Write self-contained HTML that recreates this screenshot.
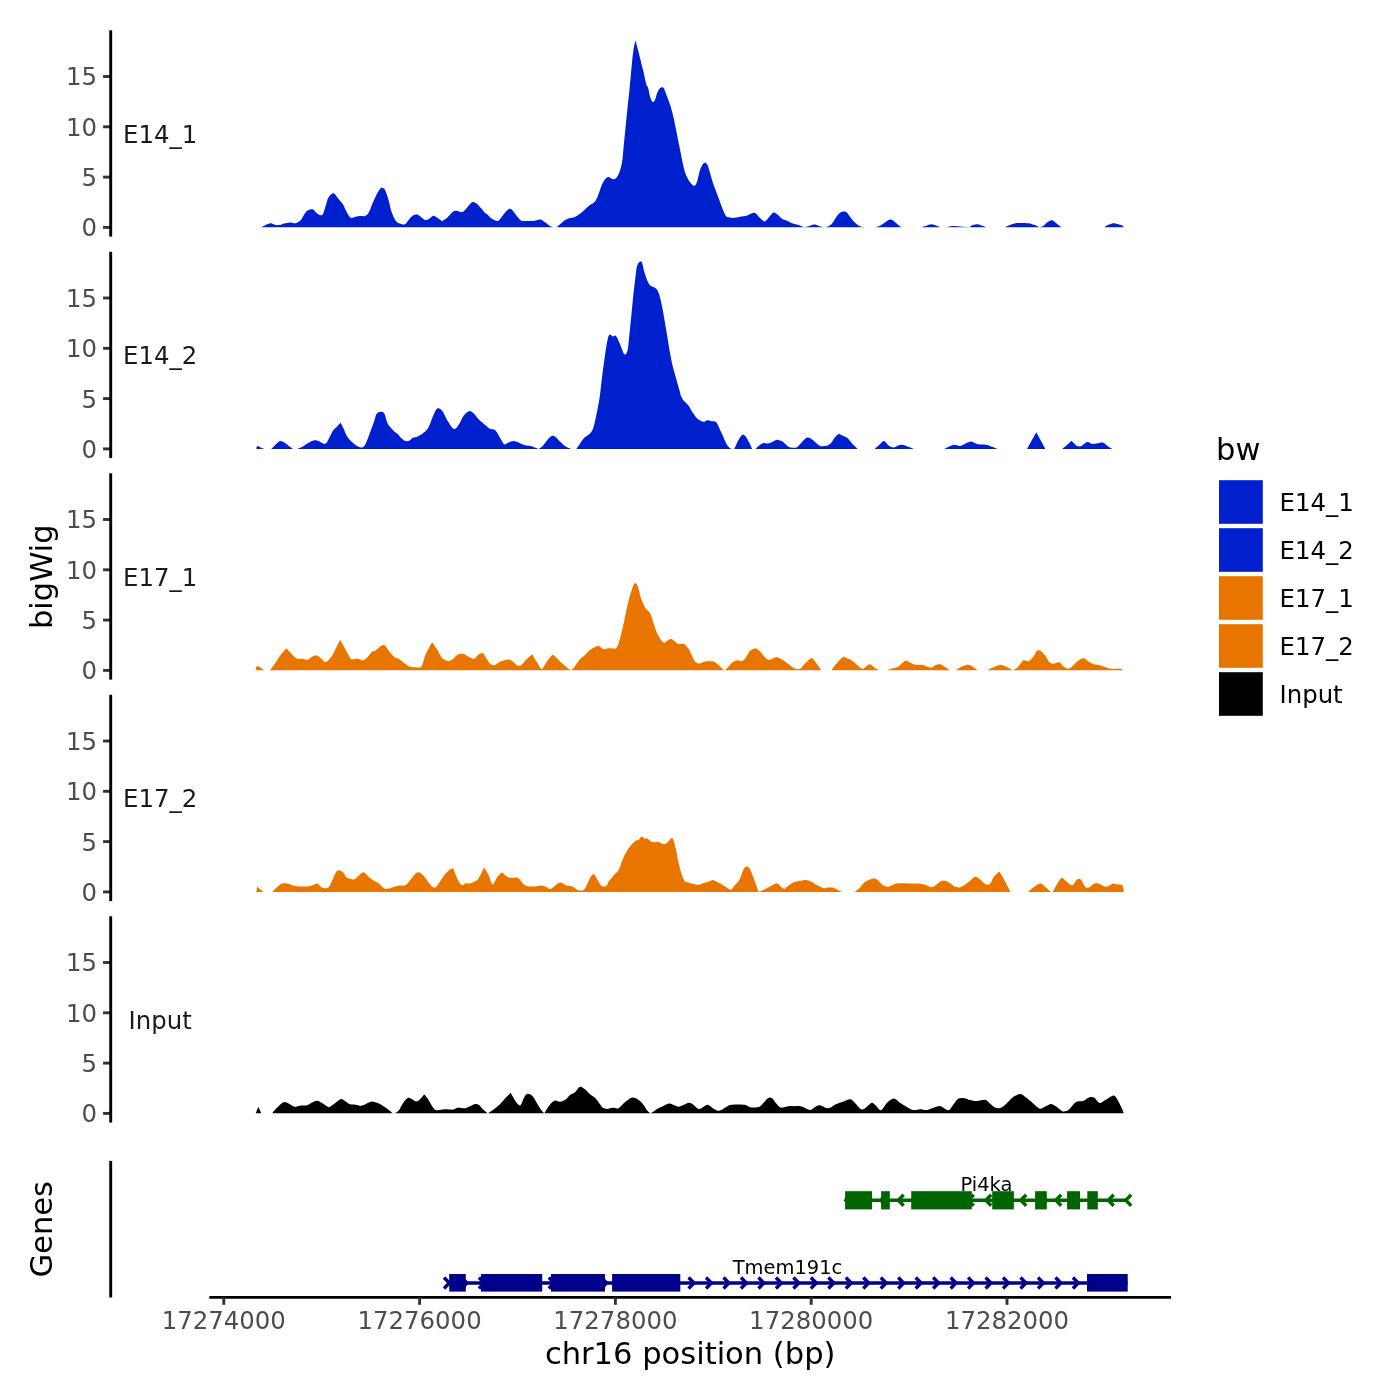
<!DOCTYPE html><html><head><meta charset="utf-8"><title>bigWig tracks</title><style>
html,body{margin:0;padding:0;background:#fff;}svg{display:block;will-change:transform;}
text{font-family:"DejaVu Sans","Liberation Sans",sans-serif;}
</style></head><body>
<svg width="1400" height="1400" viewBox="0 0 1400 1400">
<rect x="0" y="0" width="1400" height="1400" fill="#fff"/>
<clipPath id="c0"><rect x="200" y="30.30" width="1000" height="197.10"/></clipPath>
<path d="M260.7,227.4 L260.71,227.40 C261.31,227.12 262.74,226.40 264.29,225.71 C265.83,225.03 268.57,223.57 270.00,223.29 C271.43,223.00 271.90,223.71 272.86,224.00 C273.81,224.29 274.52,224.83 275.71,225.00 C276.90,225.17 278.57,225.24 280.00,225.00 C281.43,224.76 282.62,224.00 284.29,223.57 C285.95,223.14 288.10,222.50 290.00,222.43 C291.90,222.36 293.93,223.50 295.71,223.14 C297.50,222.79 299.29,221.76 300.71,220.29 C302.14,218.81 303.10,215.95 304.29,214.29 C305.48,212.62 306.43,211.12 307.86,210.29 C309.29,209.45 311.55,208.98 312.86,209.29 C314.17,209.60 314.52,211.19 315.71,212.14 C316.90,213.10 318.81,214.64 320.00,215.00 C321.19,215.36 321.90,215.83 322.86,214.29 C323.81,212.74 324.76,208.57 325.71,205.71 C326.67,202.86 327.26,199.24 328.57,197.14 C329.88,195.05 332.14,193.14 333.57,193.14 C335.00,193.14 336.07,195.88 337.14,197.14 C338.21,198.40 339.05,199.52 340.00,200.71 C340.95,201.90 341.67,202.26 342.86,204.29 C344.05,206.31 345.83,210.60 347.14,212.86 C348.45,215.12 349.29,217.19 350.71,217.86 C352.14,218.52 354.17,217.17 355.71,216.86 C357.26,216.55 358.45,216.14 360.00,216.00 C361.55,215.86 363.57,216.52 365.00,216.00 C366.43,215.48 367.26,215.05 368.57,212.86 C369.88,210.67 371.43,206.07 372.86,202.86 C374.29,199.64 375.71,196.07 377.14,193.57 C378.57,191.07 380.12,188.45 381.43,187.86 C382.74,187.26 383.81,187.98 385.00,190.00 C386.19,192.02 387.50,196.43 388.57,200.00 C389.64,203.57 390.24,207.98 391.43,211.43 C392.62,214.88 394.29,218.69 395.71,220.71 C397.14,222.74 398.45,222.98 400.00,223.57 C401.55,224.17 403.57,224.88 405.00,224.29 C406.43,223.69 407.26,221.48 408.57,220.00 C409.88,218.52 411.43,216.33 412.86,215.43 C414.29,214.52 415.83,214.33 417.14,214.57 C418.45,214.81 419.52,216.00 420.71,216.86 C421.90,217.71 422.98,219.31 424.29,219.71 C425.60,220.12 427.14,219.90 428.57,219.29 C430.00,218.67 431.67,216.40 432.86,216.00 C434.05,215.60 434.29,216.07 435.71,216.86 C437.14,217.64 440.24,220.07 441.43,220.71 C442.62,221.36 441.90,221.19 442.86,220.71 C443.81,220.24 445.48,219.33 447.14,217.86 C448.81,216.38 451.31,213.05 452.86,211.86 C454.40,210.67 455.00,210.67 456.43,210.71 C457.86,210.76 460.12,212.14 461.43,212.14 C462.74,212.14 463.10,211.79 464.29,210.71 C465.48,209.64 467.26,207.14 468.57,205.71 C469.88,204.29 470.83,202.50 472.14,202.14 C473.45,201.79 475.00,202.62 476.43,203.57 C477.86,204.52 479.40,206.43 480.71,207.86 C482.02,209.29 483.21,211.07 484.29,212.14 C485.36,213.21 485.95,213.21 487.14,214.29 C488.33,215.36 489.76,217.45 491.43,218.57 C493.10,219.69 495.71,220.88 497.14,221.00 C498.57,221.12 498.81,220.52 500.00,219.29 C501.19,218.05 502.74,215.31 504.29,213.57 C505.83,211.83 507.86,209.33 509.29,208.86 C510.71,208.38 511.55,209.45 512.86,210.71 C514.17,211.98 515.71,214.76 517.14,216.43 C518.57,218.10 520.00,219.95 521.43,220.71 C522.86,221.48 523.81,220.95 525.71,221.00 C527.62,221.05 530.71,221.21 532.86,221.00 C535.00,220.79 537.14,219.93 538.57,219.71 C540.00,219.50 540.24,219.19 541.43,219.71 C542.62,220.24 544.29,221.81 545.71,222.86 C547.14,223.90 548.69,225.24 550.00,226.00 C551.31,226.76 553.57,227.40 553.57,227.40 L556.43,227.40 C556.43,227.40 558.69,225.40 560.00,224.29 C561.31,223.17 562.74,221.71 564.29,220.71 C565.83,219.71 567.74,218.81 569.29,218.29 C570.83,217.76 572.26,218.00 573.57,217.57 C574.88,217.14 575.83,216.50 577.14,215.71 C578.45,214.93 580.00,214.00 581.43,212.86 C582.86,211.71 584.29,210.17 585.71,208.86 C587.14,207.55 588.57,206.12 590.00,205.00 C591.43,203.88 593.10,203.33 594.29,202.14 C595.48,200.95 596.19,199.88 597.14,197.86 C598.10,195.83 599.05,192.50 600.00,190.00 C600.95,187.50 601.79,184.88 602.86,182.86 C603.93,180.83 605.36,178.81 606.43,177.86 C607.50,176.90 608.10,176.90 609.29,177.14 C610.48,177.38 612.14,179.52 613.57,179.29 C615.00,179.05 616.49,178.31 617.86,175.71 C619.23,173.12 620.81,168.71 621.79,163.71 C622.76,158.71 623.07,151.93 623.71,145.71 C624.36,139.50 625.00,132.86 625.64,126.43 C626.29,120.00 626.93,113.36 627.57,107.14 C628.21,100.93 628.86,95.57 629.50,89.14 C630.14,82.71 630.79,75.00 631.43,68.57 C632.07,62.14 632.67,55.29 633.36,50.57 C634.04,45.86 635.54,40.29 635.54,40.29 C635.54,40.29 637.90,49.50 639.14,54.43 C640.39,59.36 641.82,64.93 643.00,69.86 C644.18,74.79 645.36,81.00 646.21,84.00 C647.07,87.00 647.50,85.71 648.14,87.86 C648.79,90.00 649.32,94.50 650.07,96.86 C650.82,99.21 651.79,101.57 652.64,102.00 C653.50,102.43 654.46,100.93 655.21,99.43 C655.96,97.93 656.39,94.82 657.14,93.00 C657.89,91.18 658.69,89.40 659.71,88.50 C660.74,87.60 662.24,86.64 663.31,87.60 C664.39,88.56 665.03,91.46 666.14,94.29 C667.26,97.11 668.93,101.36 670.00,104.57 C671.07,107.79 671.71,110.14 672.57,113.57 C673.43,117.00 674.29,121.07 675.14,125.14 C676.00,129.21 676.86,133.71 677.71,138.00 C678.57,142.29 679.43,146.57 680.29,150.86 C681.14,155.14 681.95,159.81 682.86,163.71 C683.76,167.62 684.52,171.21 685.71,174.29 C686.90,177.36 688.57,180.24 690.00,182.14 C691.43,184.05 693.10,185.83 694.29,185.71 C695.48,185.60 696.19,184.05 697.14,181.43 C698.10,178.81 698.93,173.05 700.00,170.00 C701.07,166.95 702.38,164.10 703.57,163.14 C704.76,162.19 706.07,162.67 707.14,164.29 C708.21,165.90 709.05,169.76 710.00,172.86 C710.95,175.95 711.67,179.29 712.86,182.86 C714.05,186.43 715.71,190.48 717.14,194.29 C718.57,198.10 720.00,202.14 721.43,205.71 C722.86,209.29 724.29,213.76 725.71,215.71 C727.14,217.67 728.57,217.07 730.00,217.43 C731.43,217.79 732.62,217.98 734.29,217.86 C735.95,217.74 737.86,217.12 740.00,216.71 C742.14,216.31 744.76,216.07 747.14,215.43 C749.52,214.79 752.38,212.69 754.29,212.86 C756.19,213.02 756.90,215.00 758.57,216.43 C760.24,217.86 762.62,221.19 764.29,221.43 C765.95,221.67 767.14,219.29 768.57,217.86 C770.00,216.43 771.67,213.64 772.86,212.86 C774.05,212.07 774.76,212.71 775.71,213.14 C776.67,213.57 777.38,214.40 778.57,215.43 C779.76,216.45 781.43,218.40 782.86,219.29 C784.29,220.17 785.48,220.00 787.14,220.71 C788.81,221.43 790.95,222.86 792.86,223.57 C794.76,224.29 796.67,224.36 798.57,225.00 C800.48,225.64 804.29,227.40 804.29,227.40 C804.29,227.40 808.33,226.19 810.00,225.71 C811.67,225.24 812.86,224.57 814.29,224.57 C815.71,224.57 817.02,225.24 818.57,225.71 C820.12,226.19 823.57,227.40 823.57,227.40 L825.71,227.40 C825.71,227.40 829.71,225.95 831.43,224.29 C833.14,222.62 834.57,219.37 836.00,217.43 C837.43,215.49 838.38,213.58 840.00,212.63 C841.62,211.68 844.10,211.10 845.71,211.71 C847.33,212.32 848.29,214.57 849.71,216.29 C851.14,218.00 852.76,220.44 854.29,222.00 C855.81,223.56 857.14,224.76 858.86,225.66 C860.57,226.56 864.57,227.40 864.57,227.40 L874.86,227.40 C874.86,227.40 878.67,226.42 880.57,225.43 C882.48,224.43 884.61,222.42 886.29,221.43 C887.96,220.44 889.30,219.49 890.63,219.49 C891.96,219.49 892.91,220.44 894.29,221.43 C895.66,222.42 897.62,224.43 898.86,225.43 C900.10,226.42 901.71,227.40 901.71,227.40 L920.57,227.40 C920.57,227.40 924.48,226.18 926.29,225.66 C928.10,225.14 929.71,224.29 931.43,224.29 C933.14,224.29 935.05,225.14 936.57,225.66 C938.10,226.18 940.57,227.40 940.57,227.40 L946.86,227.40 C946.86,227.40 949.29,226.00 953.14,226.00 C957.00,226.00 970.00,227.40 970.00,227.40 C970.00,227.40 970.00,226.18 971.14,225.66 C972.29,225.14 975.14,224.32 976.86,224.29 C978.57,224.25 979.71,224.91 981.43,225.43 C983.14,225.95 987.14,227.40 987.14,227.40 L1004.29,227.40 C1004.29,227.40 1006.95,226.14 1008.86,225.43 C1010.76,224.72 1012.48,223.52 1015.71,223.14 C1018.95,222.76 1025.24,222.86 1028.29,223.14 C1031.33,223.43 1032.10,224.15 1034.00,224.86 C1035.90,225.57 1039.71,227.40 1039.71,227.40 C1039.71,227.40 1041.81,226.90 1043.14,226.00 C1044.48,225.10 1046.23,222.95 1047.71,222.00 C1049.20,221.05 1050.53,220.00 1052.06,220.29 C1053.58,220.57 1055.30,222.53 1056.86,223.71 C1058.42,224.90 1061.43,227.40 1061.43,227.40 L1104.29,227.40 C1104.29,227.40 1106.76,225.57 1108.29,224.86 C1109.81,224.15 1111.71,223.24 1113.43,223.14 C1115.14,223.05 1116.95,223.81 1118.57,224.29 C1120.19,224.76 1122.34,225.48 1123.14,226.00 C1123.37,226.52 1123.33,227.17 1123.37,227.40 L1123.4,227.4 Z" fill="#0020CD" clip-path="url(#c0)"/>
<line x1="103.1" y1="227.40" x2="110.7" y2="227.40" stroke="#333" stroke-width="2.9"/>
<text x="97" y="236.30" font-size="24.4" fill="#4D4D4D" text-anchor="end">0</text>
<line x1="103.1" y1="177.10" x2="110.7" y2="177.10" stroke="#333" stroke-width="2.9"/>
<text x="97" y="186.00" font-size="24.4" fill="#4D4D4D" text-anchor="end">5</text>
<line x1="103.1" y1="126.80" x2="110.7" y2="126.80" stroke="#333" stroke-width="2.9"/>
<text x="97" y="135.70" font-size="24.4" fill="#4D4D4D" text-anchor="end">10</text>
<line x1="103.1" y1="76.50" x2="110.7" y2="76.50" stroke="#333" stroke-width="2.9"/>
<text x="97" y="85.40" font-size="24.4" fill="#4D4D4D" text-anchor="end">15</text>
<line x1="110.7" y1="30.30" x2="110.7" y2="236.60" stroke="#000" stroke-width="2.9"/>
<text x="160.2" y="142.85" font-size="24.4" fill="#1A1A1A" text-anchor="middle">E14_1</text>
<clipPath id="c1"><rect x="200" y="251.80" width="1000" height="197.10"/></clipPath>
<path d="M256.4,448.9 L256.43,448.90 C256.55,448.44 256.43,446.39 257.14,446.14 C257.86,445.90 259.52,446.97 260.71,447.43 C261.90,447.89 264.29,448.90 264.29,448.90 L268.57,448.90 L271.43,448.90 C271.43,448.90 274.29,445.89 275.71,444.57 C277.14,443.25 278.57,441.33 280.00,441.00 C281.43,440.67 282.86,441.79 284.29,442.57 C285.71,443.36 287.14,444.66 288.57,445.71 C290.00,446.77 292.86,448.90 292.86,448.90 L297.14,448.90 C297.14,448.90 300.95,447.44 302.86,446.43 C304.76,445.42 306.67,443.88 308.57,442.86 C310.48,441.83 312.62,440.60 314.29,440.29 C315.95,439.98 316.79,440.40 318.57,441.00 C320.36,441.60 323.33,444.14 325.00,443.86 C326.67,443.57 327.26,441.48 328.57,439.29 C329.88,437.10 331.43,432.86 332.86,430.71 C334.29,428.57 335.83,427.74 337.14,426.43 C338.45,425.12 340.71,422.86 340.71,422.86 C340.71,422.86 342.50,426.31 343.57,428.57 C344.64,430.83 345.60,434.05 347.14,436.43 C348.69,438.81 350.95,441.12 352.86,442.86 C354.76,444.60 356.90,446.14 358.57,446.86 C360.24,447.57 361.67,447.69 362.86,447.14 C364.05,446.60 364.52,445.95 365.71,443.57 C366.90,441.19 368.57,436.67 370.00,432.86 C371.43,429.05 373.10,424.00 374.29,420.71 C375.48,417.43 375.60,414.50 377.14,413.14 C378.69,411.79 381.90,411.07 383.57,412.57 C385.24,414.07 386.07,419.76 387.14,422.14 C388.21,424.52 388.81,425.31 390.00,426.86 C391.19,428.40 393.10,430.31 394.29,431.43 C395.48,432.55 395.95,432.43 397.14,433.57 C398.33,434.71 400.12,437.07 401.43,438.29 C402.74,439.50 403.69,440.45 405.00,440.86 C406.31,441.26 407.98,441.21 409.29,440.71 C410.60,440.21 411.55,438.50 412.86,437.86 C414.17,437.21 415.36,437.69 417.14,436.86 C418.93,436.02 421.67,434.48 423.57,432.86 C425.48,431.24 427.02,429.88 428.57,427.14 C430.12,424.40 431.43,419.52 432.86,416.43 C434.29,413.33 435.60,409.52 437.14,408.57 C438.69,407.62 440.71,409.29 442.14,410.71 C443.57,412.14 444.88,415.60 445.71,417.14 C446.55,418.69 445.83,418.05 447.14,420.00 C448.45,421.95 451.67,428.02 453.57,428.86 C455.48,429.69 456.90,427.19 458.57,425.00 C460.24,422.81 461.79,418.02 463.57,415.71 C465.36,413.40 467.50,411.43 469.29,411.14 C471.07,410.86 472.74,412.64 474.29,414.00 C475.83,415.36 476.90,417.57 478.57,419.29 C480.24,421.00 482.38,422.69 484.29,424.29 C486.19,425.88 488.21,427.90 490.00,428.86 C491.79,429.81 493.33,428.50 495.00,430.00 C496.67,431.50 498.45,435.48 500.00,437.86 C501.55,440.24 502.86,443.50 504.29,444.29 C505.71,445.07 507.02,443.12 508.57,442.57 C510.12,442.02 511.90,441.00 513.57,441.00 C515.24,441.00 516.67,441.86 518.57,442.57 C520.48,443.29 522.86,444.69 525.00,445.29 C527.14,445.88 529.17,445.54 531.43,446.14 C533.69,446.75 538.57,448.90 538.57,448.90 C538.57,448.90 541.19,447.44 542.86,445.71 C544.52,443.99 547.14,440.17 548.57,438.57 C550.00,436.98 550.36,436.50 551.43,436.14 C552.50,435.79 553.57,435.55 555.00,436.43 C556.43,437.31 558.21,439.76 560.00,441.43 C561.79,443.10 563.81,445.18 565.71,446.43 C567.62,447.67 571.43,448.90 571.43,448.90 L576.43,448.90 C576.43,448.90 580.12,443.27 581.43,441.43 C582.74,439.59 582.74,439.29 584.29,437.86 C585.83,436.43 589.05,435.12 590.71,432.86 C592.38,430.60 592.86,429.80 594.29,424.29 C595.71,418.77 598.02,407.40 599.29,399.79 C600.55,392.17 601.00,385.32 601.86,378.57 C602.71,371.82 603.57,365.29 604.43,359.29 C605.29,353.29 606.19,346.64 607.00,342.57 C607.81,338.50 608.35,335.89 609.31,334.86 C610.28,333.83 611.67,336.23 612.79,336.40 C613.90,336.57 614.82,334.64 616.00,335.89 C617.18,337.13 618.46,340.81 619.86,343.86 C621.25,346.90 623.07,353.07 624.36,354.14 C625.64,355.21 626.71,353.71 627.57,350.29 C628.43,346.86 628.86,339.57 629.50,333.57 C630.14,327.57 630.79,320.71 631.43,314.29 C632.07,307.86 632.71,301.00 633.36,295.00 C634.00,289.00 634.64,283.21 635.29,278.29 C635.93,273.36 636.19,268.17 637.21,265.43 C638.24,262.69 640.28,260.76 641.46,261.83 C642.64,262.90 643.39,268.90 644.29,271.86 C645.19,274.81 645.89,277.32 646.86,279.57 C647.82,281.82 648.89,284.07 650.07,285.36 C651.25,286.64 652.75,286.54 653.93,287.29 C655.11,288.04 656.18,288.36 657.14,289.86 C658.11,291.36 658.86,293.29 659.71,296.29 C660.57,299.29 661.43,303.57 662.29,307.86 C663.14,312.14 664.00,317.07 664.86,322.00 C665.71,326.93 666.57,332.29 667.43,337.43 C668.29,342.57 669.14,348.14 670.00,352.86 C670.86,357.57 671.61,361.64 672.57,365.71 C673.54,369.79 674.71,373.43 675.79,377.29 C676.86,381.14 677.94,385.31 679.00,388.86 C680.06,392.40 680.55,395.76 682.14,398.57 C683.74,401.38 686.79,403.33 688.57,405.71 C690.36,408.10 691.43,410.71 692.86,412.86 C694.29,415.00 695.71,417.19 697.14,418.57 C698.57,419.95 700.24,420.62 701.43,421.14 C702.62,421.67 703.33,421.86 704.29,421.71 C705.24,421.57 705.95,420.38 707.14,420.29 C708.33,420.19 709.88,420.76 711.43,421.14 C712.98,421.52 714.76,420.62 716.43,422.57 C718.10,424.52 719.64,429.12 721.43,432.86 C723.21,436.60 725.48,442.33 727.14,445.00 C728.81,447.67 731.43,448.90 731.43,448.90 L734.29,448.90 C734.29,448.90 737.26,442.32 738.57,440.00 C739.88,437.68 740.95,435.60 742.14,435.00 C743.33,434.40 744.52,435.12 745.71,436.43 C746.90,437.74 748.21,440.78 749.29,442.86 C750.36,444.94 752.14,448.90 752.14,448.90 L755.71,448.90 C755.71,448.90 757.38,446.96 758.57,446.00 C759.76,445.04 761.31,443.55 762.86,443.14 C764.40,442.74 766.19,443.81 767.86,443.57 C769.52,443.33 771.31,442.36 772.86,441.71 C774.40,441.07 775.48,439.71 777.14,439.71 C778.81,439.71 781.19,440.71 782.86,441.71 C784.52,442.71 785.83,444.76 787.14,445.71 C788.45,446.67 789.17,447.14 790.71,447.43 C792.26,447.71 794.88,447.95 796.43,447.43 C797.98,446.90 798.21,445.93 800.00,444.29 C801.79,442.64 805.00,438.29 807.14,437.57 C809.29,436.86 810.71,438.60 812.86,440.00 C815.00,441.40 817.86,445.05 820.00,446.00 C822.14,446.95 824.67,445.71 825.71,445.71 C826.29,445.71 825.71,446.43 826.29,446.00 C827.14,445.57 829.43,444.57 830.86,443.14 C832.29,441.71 833.62,438.91 834.86,437.43 C836.10,435.94 837.14,434.61 838.29,434.23 C839.43,433.85 840.19,434.51 841.71,435.14 C843.24,435.77 845.90,436.86 847.43,438.00 C848.95,439.14 849.71,440.72 850.86,442.00 C852.00,443.28 853.14,444.51 854.29,445.66 C855.43,446.81 857.71,448.90 857.71,448.90 L874.86,448.90 C874.86,448.90 877.94,446.16 879.43,444.86 C880.91,443.55 882.25,440.99 883.77,441.09 C885.30,441.18 886.91,444.36 888.57,445.43 C890.23,446.50 892.19,447.45 893.71,447.49 C895.24,447.52 896.29,446.10 897.71,445.66 C899.14,445.22 900.76,444.74 902.29,444.86 C903.81,444.97 904.95,445.67 906.86,446.34 C908.76,447.02 913.71,448.90 913.71,448.90 L944.57,448.90 C944.57,448.90 947.52,447.25 949.14,446.57 C950.76,445.90 952.48,444.95 954.29,444.86 C956.10,444.76 958.19,446.19 960.00,446.00 C961.81,445.81 963.33,444.48 965.14,443.71 C966.95,442.95 969.14,441.49 970.86,441.43 C972.57,441.37 974.24,442.90 975.43,443.37 C976.62,443.85 976.24,444.04 978.00,444.29 C979.76,444.53 983.90,444.51 986.00,444.86 C988.10,445.20 988.67,445.67 990.57,446.34 C992.48,447.02 997.43,448.90 997.43,448.90 L1027.14,448.90 C1027.14,448.90 1036.29,432.29 1036.29,432.29 C1036.29,432.29 1045.43,448.90 1045.43,448.90 L1062.57,448.90 C1062.57,448.90 1065.66,446.24 1067.14,444.86 C1068.63,443.48 1071.49,440.63 1071.49,440.63 C1071.49,440.63 1075.10,444.48 1076.29,445.43 C1077.47,446.38 1077.71,446.25 1078.57,446.34 C1079.43,446.44 1080.00,446.72 1081.43,446.00 C1082.86,445.28 1085.43,442.38 1087.14,442.00 C1088.86,441.62 1090.48,443.43 1091.71,443.71 C1092.95,444.00 1093.33,443.85 1094.57,443.71 C1095.81,443.58 1097.62,443.05 1099.14,442.91 C1100.67,442.78 1102.19,442.30 1103.71,442.91 C1105.24,443.52 1106.86,445.57 1108.29,446.57 C1109.71,447.57 1111.62,448.51 1112.29,448.90 L1112.3,448.9 Z" fill="#0020CD" clip-path="url(#c1)"/>
<line x1="103.1" y1="448.90" x2="110.7" y2="448.90" stroke="#333" stroke-width="2.9"/>
<text x="97" y="457.80" font-size="24.4" fill="#4D4D4D" text-anchor="end">0</text>
<line x1="103.1" y1="398.60" x2="110.7" y2="398.60" stroke="#333" stroke-width="2.9"/>
<text x="97" y="407.50" font-size="24.4" fill="#4D4D4D" text-anchor="end">5</text>
<line x1="103.1" y1="348.30" x2="110.7" y2="348.30" stroke="#333" stroke-width="2.9"/>
<text x="97" y="357.20" font-size="24.4" fill="#4D4D4D" text-anchor="end">10</text>
<line x1="103.1" y1="298.00" x2="110.7" y2="298.00" stroke="#333" stroke-width="2.9"/>
<text x="97" y="306.90" font-size="24.4" fill="#4D4D4D" text-anchor="end">15</text>
<line x1="110.7" y1="251.80" x2="110.7" y2="458.10" stroke="#000" stroke-width="2.9"/>
<text x="160.2" y="364.35" font-size="24.4" fill="#1A1A1A" text-anchor="middle">E14_2</text>
<clipPath id="c2"><rect x="200" y="473.30" width="1000" height="197.10"/></clipPath>
<path d="M255.4,670.4 L255.43,670.40 C255.71,669.67 256.26,666.42 257.14,666.00 C258.02,665.58 259.52,667.12 260.71,667.86 C261.90,668.59 264.29,670.40 264.29,670.40 L270.00,670.40 C270.00,670.40 273.33,666.02 275.00,663.57 C276.67,661.12 278.10,658.29 280.00,655.71 C281.90,653.14 286.43,648.14 286.43,648.14 C286.43,648.14 289.76,651.83 291.43,653.57 C293.10,655.31 294.52,657.69 296.43,658.57 C298.33,659.45 301.07,658.62 302.86,658.86 C304.64,659.10 305.71,660.29 307.14,660.00 C308.57,659.71 310.00,657.93 311.43,657.14 C312.86,656.36 314.29,655.24 315.71,655.29 C317.14,655.33 318.33,656.33 320.00,657.43 C321.67,658.52 323.69,662.14 325.71,661.86 C327.74,661.57 330.48,657.93 332.14,655.71 C333.81,653.50 334.36,651.24 335.71,648.57 C337.07,645.90 340.29,639.71 340.29,639.71 C340.29,639.71 342.90,644.60 344.29,647.14 C345.67,649.69 347.38,652.98 348.57,655.00 C349.76,657.02 350.12,658.64 351.43,659.29 C352.74,659.93 355.12,658.86 356.43,658.86 C357.74,658.86 358.21,659.02 359.29,659.29 C360.36,659.55 361.55,660.74 362.86,660.43 C364.17,660.12 365.60,658.88 367.14,657.43 C368.69,655.98 370.71,652.88 372.14,651.71 C373.57,650.55 374.52,651.19 375.71,650.43 C376.90,649.67 377.86,648.05 379.29,647.14 C380.71,646.24 382.74,644.40 384.29,645.00 C385.83,645.60 387.14,648.98 388.57,650.71 C390.00,652.45 391.67,654.24 392.86,655.43 C394.05,656.62 394.64,657.21 395.71,657.86 C396.79,658.50 397.86,658.40 399.29,659.29 C400.71,660.17 402.50,661.88 404.29,663.14 C406.07,664.40 408.10,666.19 410.00,666.86 C411.90,667.52 413.81,667.21 415.71,667.14 C417.62,667.07 419.76,668.57 421.43,666.43 C423.10,664.29 423.93,658.33 425.71,654.29 C427.50,650.24 432.14,642.14 432.14,642.14 C432.14,642.14 435.60,646.79 437.14,649.29 C438.69,651.79 440.00,655.31 441.43,657.14 C442.86,658.98 444.52,659.62 445.71,660.29 C446.90,660.95 447.38,661.31 448.57,661.14 C449.76,660.98 451.31,660.38 452.86,659.29 C454.40,658.19 456.07,655.45 457.86,654.57 C459.64,653.69 461.79,653.62 463.57,654.00 C465.36,654.38 466.79,656.05 468.57,656.86 C470.36,657.67 472.62,659.24 474.29,658.86 C475.95,658.48 477.14,655.52 478.57,654.57 C480.00,653.62 481.55,652.48 482.86,653.14 C484.17,653.81 485.12,656.71 486.43,658.57 C487.74,660.43 489.29,663.21 490.71,664.29 C492.14,665.36 493.45,665.43 495.00,665.00 C496.55,664.57 498.21,662.55 500.00,661.71 C501.79,660.88 504.17,660.36 505.71,660.00 C507.26,659.64 507.98,659.21 509.29,659.57 C510.60,659.93 512.14,661.12 513.57,662.14 C515.00,663.17 516.55,665.24 517.86,665.71 C519.17,666.19 520.12,665.90 521.43,665.00 C522.74,664.10 523.93,662.07 525.71,660.29 C527.50,658.50 532.14,654.29 532.14,654.29 C532.14,654.29 534.88,659.00 536.43,661.43 C537.98,663.86 540.12,668.14 541.43,668.86 C542.74,669.57 543.10,667.31 544.29,665.71 C545.48,664.12 547.14,661.14 548.57,659.29 C550.00,657.43 552.86,654.57 552.86,654.57 C552.86,654.57 555.60,657.07 557.14,658.57 C558.69,660.07 560.48,662.02 562.14,663.57 C563.81,665.12 565.71,666.72 567.14,667.86 C568.57,669.00 570.71,670.40 570.71,670.40 C570.71,670.40 572.86,668.88 574.29,667.14 C575.71,665.41 577.50,662.02 579.29,660.00 C581.07,657.98 583.21,656.67 585.00,655.00 C586.79,653.33 588.45,651.26 590.00,650.00 C591.55,648.74 592.86,648.14 594.29,647.43 C595.71,646.71 597.02,645.40 598.57,645.71 C600.12,646.02 601.90,648.86 603.57,649.29 C605.24,649.71 606.79,648.40 608.57,648.29 C610.36,648.17 613.05,648.57 614.29,648.57 C615.52,648.57 615.33,649.00 616.00,648.29 C616.67,647.57 617.43,646.67 618.29,644.29 C619.14,641.90 620.19,637.81 621.14,634.00 C622.10,630.19 622.95,626.19 624.00,621.43 C625.05,616.67 626.29,610.19 627.43,605.43 C628.57,600.67 629.81,596.29 630.86,592.86 C631.90,589.43 632.86,586.48 633.71,584.86 C634.57,583.24 635.24,582.57 636.00,583.14 C636.76,583.71 637.43,585.71 638.29,588.29 C639.14,590.86 640.00,595.33 641.14,598.57 C642.29,601.81 643.62,605.24 645.14,607.71 C646.67,610.19 648.86,610.76 650.29,613.43 C651.71,616.10 652.38,620.00 653.71,623.71 C655.05,627.43 656.57,632.57 658.29,635.71 C660.00,638.86 662.29,641.90 664.00,642.57 C665.71,643.24 667.24,640.29 668.57,639.71 C669.90,639.14 670.86,638.76 672.00,639.14 C673.14,639.52 674.29,641.18 675.43,642.00 C676.57,642.82 677.43,643.71 678.86,644.06 C680.29,644.40 682.38,643.26 684.00,644.06 C685.62,644.86 687.33,647.10 688.57,648.86 C689.81,650.61 690.38,652.48 691.43,654.57 C692.48,656.67 693.52,659.94 694.86,661.43 C696.19,662.91 697.90,663.45 699.43,663.49 C700.95,663.52 702.29,662.04 704.00,661.66 C705.71,661.28 708.00,661.20 709.71,661.20 C711.43,661.20 712.86,661.05 714.29,661.66 C715.71,662.27 717.05,663.75 718.29,664.86 C719.52,665.96 720.67,667.36 721.71,668.29 C722.76,669.21 724.57,670.40 724.57,670.40 C724.57,670.40 726.67,668.49 728.00,667.14 C729.33,665.80 731.05,663.49 732.57,662.34 C734.10,661.20 735.62,660.48 737.14,660.29 C738.67,660.10 740.38,661.49 741.71,661.20 C743.05,660.91 743.81,660.25 745.14,658.57 C746.48,656.90 748.00,652.86 749.71,651.14 C751.43,649.43 754.43,648.79 755.43,648.29 C755.71,647.79 755.43,647.62 755.71,648.14 C756.48,648.67 758.57,650.05 760.00,651.43 C761.43,652.81 762.86,655.00 764.29,656.43 C765.71,657.86 767.14,659.64 768.57,660.00 C770.00,660.36 771.43,659.05 772.86,658.57 C774.29,658.10 775.48,656.90 777.14,657.14 C778.81,657.38 780.95,658.81 782.86,660.00 C784.76,661.19 786.67,662.90 788.57,664.29 C790.48,665.67 792.38,667.52 794.29,668.29 C796.19,669.05 798.10,669.76 800.00,668.86 C801.90,667.95 803.81,664.62 805.71,662.86 C807.62,661.10 809.76,658.40 811.43,658.29 C813.10,658.17 814.05,660.12 815.71,662.14 C817.38,664.16 821.43,670.40 821.43,670.40 L831.43,670.40 C831.43,670.40 835.24,665.07 837.14,662.86 C839.05,660.65 841.19,657.90 842.86,657.14 C844.52,656.38 845.48,657.62 847.14,658.29 C848.81,658.95 851.19,660.02 852.86,661.14 C854.52,662.26 855.60,663.71 857.14,665.00 C858.69,666.29 860.83,668.45 862.14,668.86 C863.45,669.26 863.74,668.19 865.00,667.43 C866.26,666.67 868.17,664.29 869.71,664.29 C871.26,664.29 872.69,666.41 874.29,667.43 C875.88,668.45 879.29,670.40 879.29,670.40 L887.14,670.40 C887.14,670.40 890.95,668.95 892.86,668.29 C894.76,667.62 896.90,667.38 898.57,666.43 C900.24,665.48 901.55,663.52 902.86,662.57 C904.17,661.62 904.76,660.48 906.43,660.71 C908.10,660.95 910.83,663.29 912.86,664.00 C914.88,664.71 916.90,664.83 918.57,665.00 C920.24,665.17 921.19,664.64 922.86,665.00 C924.52,665.36 927.02,666.74 928.57,667.14 C930.12,667.55 930.95,667.79 932.14,667.43 C933.33,667.07 934.40,665.52 935.71,665.00 C937.02,664.48 938.57,664.05 940.00,664.29 C941.43,664.52 942.62,665.41 944.29,666.43 C945.95,667.45 950.00,670.40 950.00,670.40 L955.71,670.40 C955.71,670.40 959.64,667.76 961.43,666.86 C963.21,665.96 964.88,665.24 966.43,665.00 C967.98,664.76 968.81,664.53 970.71,665.43 C972.62,666.33 977.86,670.40 977.86,670.40 L987.14,670.40 C987.14,670.40 990.71,668.33 992.86,667.43 C995.00,666.53 997.86,665.17 1000.00,665.00 C1002.14,664.83 1003.57,665.53 1005.71,666.43 C1007.86,667.33 1012.86,670.40 1012.86,670.40 C1012.86,670.40 1015.48,669.47 1017.14,667.86 C1018.81,666.24 1021.43,661.90 1022.86,660.71 C1024.29,659.52 1024.76,660.64 1025.71,660.71 C1026.67,660.79 1027.26,661.86 1028.57,661.14 C1029.88,660.43 1032.14,658.17 1033.57,656.43 C1035.00,654.69 1035.83,651.55 1037.14,650.71 C1038.45,649.88 1040.00,650.48 1041.43,651.43 C1042.86,652.38 1044.29,654.52 1045.71,656.43 C1047.14,658.33 1048.57,661.67 1050.00,662.86 C1051.43,664.05 1052.74,663.67 1054.29,663.57 C1055.83,663.48 1057.86,661.93 1059.29,662.29 C1060.71,662.64 1061.43,664.62 1062.86,665.71 C1064.29,666.81 1066.19,668.86 1067.86,668.86 C1069.52,668.86 1071.31,666.95 1072.86,665.71 C1074.40,664.48 1075.36,662.67 1077.14,661.43 C1078.93,660.19 1081.67,658.29 1083.57,658.29 C1085.48,658.29 1086.90,660.43 1088.57,661.43 C1090.24,662.43 1091.90,663.69 1093.57,664.29 C1095.24,664.88 1096.79,664.57 1098.57,665.00 C1100.36,665.43 1102.26,666.21 1104.29,666.86 C1106.31,667.50 1107.86,668.52 1110.71,668.86 C1113.57,669.19 1119.45,668.60 1121.43,668.86 C1122.57,669.11 1122.38,670.14 1122.57,670.40 L1122.6,670.4 Z" fill="#E87500" clip-path="url(#c2)"/>
<line x1="103.1" y1="670.40" x2="110.7" y2="670.40" stroke="#333" stroke-width="2.9"/>
<text x="97" y="679.30" font-size="24.4" fill="#4D4D4D" text-anchor="end">0</text>
<line x1="103.1" y1="620.10" x2="110.7" y2="620.10" stroke="#333" stroke-width="2.9"/>
<text x="97" y="629.00" font-size="24.4" fill="#4D4D4D" text-anchor="end">5</text>
<line x1="103.1" y1="569.80" x2="110.7" y2="569.80" stroke="#333" stroke-width="2.9"/>
<text x="97" y="578.70" font-size="24.4" fill="#4D4D4D" text-anchor="end">10</text>
<line x1="103.1" y1="519.50" x2="110.7" y2="519.50" stroke="#333" stroke-width="2.9"/>
<text x="97" y="528.40" font-size="24.4" fill="#4D4D4D" text-anchor="end">15</text>
<line x1="110.7" y1="473.30" x2="110.7" y2="679.60" stroke="#000" stroke-width="2.9"/>
<text x="160.2" y="585.85" font-size="24.4" fill="#1A1A1A" text-anchor="middle">E17_1</text>
<clipPath id="c3"><rect x="200" y="694.80" width="1000" height="197.10"/></clipPath>
<path d="M256.4,891.9 L256.43,891.90 C256.55,890.99 257.14,886.43 257.14,886.43 C257.14,886.43 258.93,888.37 260.00,889.29 C261.07,890.20 263.57,891.90 263.57,891.90 L272.14,891.90 C272.14,891.90 275.48,888.53 277.14,887.14 C278.81,885.75 280.48,884.17 282.14,883.57 C283.81,882.98 285.36,883.26 287.14,883.57 C288.93,883.88 290.95,884.95 292.86,885.43 C294.76,885.90 296.19,886.26 298.57,886.43 C300.95,886.60 304.76,886.62 307.14,886.43 C309.52,886.24 311.19,885.76 312.86,885.29 C314.52,884.81 315.71,883.26 317.14,883.57 C318.57,883.88 319.64,886.43 321.43,887.14 C323.21,887.86 326.07,888.93 327.86,887.86 C329.64,886.79 330.60,883.57 332.14,880.71 C333.69,877.86 335.36,872.14 337.14,870.71 C338.93,869.29 341.19,870.95 342.86,872.14 C344.52,873.33 345.24,876.67 347.14,877.86 C349.05,879.05 352.38,879.64 354.29,879.29 C356.19,878.93 357.02,876.90 358.57,875.71 C360.12,874.52 362.14,872.21 363.57,872.14 C365.00,872.07 365.83,874.10 367.14,875.29 C368.45,876.48 369.52,877.95 371.43,879.29 C373.33,880.62 376.43,881.74 378.57,883.29 C380.71,884.83 382.62,887.69 384.29,888.57 C385.95,889.45 387.14,888.81 388.57,888.57 C390.00,888.33 391.19,887.62 392.86,887.14 C394.52,886.67 396.43,886.07 398.57,885.71 C400.71,885.36 403.57,886.19 405.71,885.00 C407.86,883.81 409.52,880.67 411.43,878.57 C413.33,876.48 415.24,873.02 417.14,872.43 C419.05,871.83 420.95,873.33 422.86,875.00 C424.76,876.67 426.79,880.33 428.57,882.43 C430.36,884.52 432.14,887.02 433.57,887.57 C435.00,888.12 435.83,887.10 437.14,885.71 C438.45,884.33 440.00,881.31 441.43,879.29 C442.86,877.26 443.86,875.36 445.71,873.57 C447.57,871.79 450.90,868.33 452.57,868.57 C454.24,868.81 454.60,872.69 455.71,875.00 C456.83,877.31 458.10,880.71 459.29,882.43 C460.48,884.14 461.79,885.14 462.86,885.29 C463.93,885.43 464.52,883.57 465.71,883.29 C466.90,883.00 468.57,883.81 470.00,883.57 C471.43,883.33 472.86,882.69 474.29,881.86 C475.71,881.02 476.95,880.95 478.57,878.57 C480.19,876.19 484.00,867.57 484.00,867.57 C484.00,867.57 487.14,872.21 488.57,875.00 C490.00,877.79 491.14,883.93 492.57,884.29 C494.00,884.64 495.55,879.17 497.14,877.14 C498.74,875.12 502.14,872.14 502.14,872.14 C502.14,872.14 505.60,875.76 507.14,876.71 C508.69,877.67 509.64,877.67 511.43,877.86 C513.21,878.05 515.95,876.90 517.86,877.86 C519.76,878.81 521.31,882.19 522.86,883.57 C524.40,884.95 525.48,885.67 527.14,886.14 C528.81,886.62 531.19,886.43 532.86,886.43 C534.52,886.43 535.71,886.31 537.14,886.14 C538.57,885.98 540.00,885.33 541.43,885.43 C542.86,885.52 544.29,886.12 545.71,886.71 C547.14,887.31 548.57,889.05 550.00,889.00 C551.43,888.95 552.62,887.50 554.29,886.43 C555.95,885.36 558.10,882.76 560.00,882.57 C561.90,882.38 563.57,884.60 565.71,885.29 C567.86,885.98 570.83,885.93 572.86,886.71 C574.88,887.50 576.07,889.45 577.86,890.00 C579.64,890.55 582.02,890.95 583.57,890.00 C585.12,889.05 585.95,886.50 587.14,884.29 C588.33,882.07 589.57,878.38 590.71,876.71 C591.86,875.05 592.93,873.86 594.00,874.29 C595.07,874.71 596.02,877.50 597.14,879.29 C598.26,881.07 599.64,883.76 600.71,885.00 C601.79,886.24 602.50,886.71 603.57,886.71 C604.64,886.71 606.31,885.88 607.14,885.00 C607.98,884.12 607.50,882.98 608.57,881.43 C609.64,879.88 611.90,877.62 613.57,875.71 C615.24,873.81 617.26,872.14 618.57,870.00 C619.88,867.86 620.48,865.24 621.43,862.86 C622.38,860.48 622.86,858.45 624.29,855.71 C625.71,852.98 628.10,848.93 630.00,846.43 C631.90,843.93 634.29,841.79 635.71,840.71 C637.14,839.64 637.57,840.71 638.57,840.00 C639.57,839.29 640.64,836.62 641.71,836.43 C642.79,836.24 644.10,838.55 645.00,838.86 C645.90,839.17 646.07,837.81 647.14,838.29 C648.21,838.76 650.00,841.07 651.43,841.71 C652.86,842.36 654.40,842.07 655.71,842.14 C657.02,842.21 657.86,841.79 659.29,842.14 C660.71,842.50 662.74,844.45 664.29,844.29 C665.83,844.12 667.19,842.14 668.57,841.14 C669.95,840.14 671.38,837.05 672.57,838.29 C673.76,839.52 674.71,844.48 675.71,848.57 C676.71,852.67 677.50,858.33 678.57,862.86 C679.64,867.38 681.07,872.62 682.14,875.71 C683.21,878.81 683.93,880.31 685.00,881.43 C686.07,882.55 687.26,882.02 688.57,882.43 C689.88,882.83 691.19,883.43 692.86,883.86 C694.52,884.29 696.67,885.17 698.57,885.00 C700.48,884.83 702.62,883.40 704.29,882.86 C705.95,882.31 707.14,882.19 708.57,881.71 C710.00,881.24 711.19,879.81 712.86,880.00 C714.52,880.19 716.67,881.86 718.57,882.86 C720.48,883.86 722.26,884.86 724.29,886.00 C726.31,887.14 729.05,889.76 730.71,889.71 C732.38,889.67 732.86,887.33 734.29,885.71 C735.71,884.10 737.74,882.74 739.29,880.00 C740.83,877.26 742.31,871.55 743.57,869.29 C744.83,867.02 745.79,866.43 746.86,866.43 C747.93,866.43 748.76,867.02 750.00,869.29 C751.24,871.55 752.86,876.23 754.29,880.00 C755.71,883.77 758.57,891.90 758.57,891.90 C758.57,891.90 760.95,891.20 762.86,890.29 C764.76,889.37 767.62,887.55 770.00,886.43 C772.38,885.31 775.24,883.45 777.14,883.57 C779.05,883.69 780.12,886.24 781.43,887.14 C782.74,888.05 784.38,888.76 785.00,889.00 C785.14,889.24 785.00,889.03 785.14,888.57 C785.60,888.11 786.43,887.22 787.71,886.26 C789.00,885.29 790.93,883.64 792.86,882.79 C794.79,881.93 797.14,881.59 799.29,881.11 C801.43,880.64 803.79,879.89 805.71,879.96 C807.64,880.02 808.93,880.60 810.86,881.50 C812.79,882.40 815.14,884.24 817.29,885.36 C819.43,886.47 822.00,887.82 823.71,888.19 C825.43,888.55 826.07,887.65 827.57,887.54 C829.07,887.44 831.21,887.26 832.71,887.54 C834.21,887.82 835.07,888.49 836.57,889.21 C838.07,889.94 841.71,891.90 841.71,891.90 L854.57,891.90 C854.57,891.90 858.21,889.38 859.71,887.93 C861.21,886.47 861.86,884.56 863.57,883.17 C865.29,881.78 868.07,880.34 870.00,879.57 C871.93,878.80 873.64,878.22 875.14,878.54 C876.64,878.86 877.71,880.43 879.00,881.50 C880.29,882.57 881.36,884.05 882.86,884.97 C884.36,885.89 886.50,886.96 888.00,887.03 C889.50,887.09 890.36,885.96 891.86,885.36 C893.36,884.76 894.21,883.75 897.00,883.43 C899.79,883.11 904.71,883.39 908.57,883.43 C912.43,883.47 917.36,883.43 920.14,883.69 C922.93,883.94 923.36,884.37 925.29,884.97 C927.21,885.57 930.00,887.22 931.71,887.29 C933.43,887.35 934.29,886.21 935.57,885.36 C936.86,884.50 938.04,882.96 939.43,882.14 C940.82,881.33 942.43,880.47 943.93,880.47 C945.43,880.47 947.04,881.44 948.43,882.14 C949.82,882.85 951.38,884.07 952.29,884.71 C953.19,885.36 952.74,885.53 953.86,886.00 C954.98,886.47 957.29,887.65 959.00,887.54 C960.71,887.44 962.43,886.36 964.14,885.36 C965.86,884.35 967.46,882.94 969.29,881.50 C971.11,880.06 973.36,877.17 975.07,876.74 C976.79,876.31 977.96,877.77 979.57,878.93 C981.18,880.09 983.00,882.83 984.71,883.69 C986.43,884.54 988.36,885.19 989.86,884.07 C991.36,882.96 992.11,879.08 993.71,877.00 C995.32,874.92 999.50,871.60 999.50,871.60 C999.50,871.60 1002.18,876.19 1004.00,879.57 C1005.82,882.95 1010.43,891.90 1010.43,891.90 L1028.43,891.90 C1028.43,891.90 1031.64,888.70 1033.57,887.29 C1035.50,885.87 1038.07,883.54 1040.00,883.43 C1041.93,883.32 1043.32,885.23 1045.14,886.64 C1046.96,888.05 1050.93,891.90 1050.93,891.90 L1052.86,891.90 C1052.86,891.90 1055.26,887.03 1056.71,884.71 C1058.17,882.40 1060.10,878.67 1061.60,878.03 C1063.10,877.39 1063.96,879.64 1065.71,880.86 C1067.47,882.08 1070.21,885.61 1072.14,885.36 C1074.07,885.10 1075.79,880.24 1077.29,879.31 C1078.79,878.39 1079.86,878.61 1081.14,879.83 C1082.43,881.05 1083.71,885.36 1085.00,886.64 C1086.29,887.93 1087.36,888.04 1088.86,887.54 C1090.36,887.05 1092.29,884.33 1094.00,883.69 C1095.71,883.04 1097.43,883.24 1099.14,883.69 C1100.86,884.14 1102.79,885.96 1104.29,886.39 C1105.79,886.81 1106.75,886.71 1108.14,886.26 C1109.54,885.81 1111.14,883.99 1112.64,883.69 C1114.14,883.39 1115.54,884.18 1117.14,884.46 C1118.75,884.74 1121.17,884.12 1122.29,885.36 C1123.40,886.60 1123.57,890.81 1123.83,891.90 L1123.8,891.9 Z" fill="#E87500" clip-path="url(#c3)"/>
<line x1="103.1" y1="891.90" x2="110.7" y2="891.90" stroke="#333" stroke-width="2.9"/>
<text x="97" y="900.80" font-size="24.4" fill="#4D4D4D" text-anchor="end">0</text>
<line x1="103.1" y1="841.60" x2="110.7" y2="841.60" stroke="#333" stroke-width="2.9"/>
<text x="97" y="850.50" font-size="24.4" fill="#4D4D4D" text-anchor="end">5</text>
<line x1="103.1" y1="791.30" x2="110.7" y2="791.30" stroke="#333" stroke-width="2.9"/>
<text x="97" y="800.20" font-size="24.4" fill="#4D4D4D" text-anchor="end">10</text>
<line x1="103.1" y1="741.00" x2="110.7" y2="741.00" stroke="#333" stroke-width="2.9"/>
<text x="97" y="749.90" font-size="24.4" fill="#4D4D4D" text-anchor="end">15</text>
<line x1="110.7" y1="694.80" x2="110.7" y2="901.10" stroke="#000" stroke-width="2.9"/>
<text x="160.2" y="807.35" font-size="24.4" fill="#1A1A1A" text-anchor="middle">E17_2</text>
<clipPath id="c4"><rect x="200" y="916.30" width="1000" height="197.10"/></clipPath>
<path d="M255.7,1113.4 L255.71,1113.40 C256.14,1112.29 258.29,1106.71 258.29,1106.71 C258.29,1106.71 261.43,1113.40 261.43,1113.40 L272.14,1113.40 C272.14,1113.40 275.24,1109.45 277.14,1107.57 C279.05,1105.70 281.67,1102.81 283.57,1102.14 C285.48,1101.48 286.79,1102.81 288.57,1103.57 C290.36,1104.33 292.38,1106.36 294.29,1106.71 C296.19,1107.07 297.86,1105.95 300.00,1105.71 C302.14,1105.48 305.24,1105.76 307.14,1105.29 C309.05,1104.81 309.76,1103.62 311.43,1102.86 C313.10,1102.10 315.24,1100.60 317.14,1100.71 C319.05,1100.83 320.95,1102.50 322.86,1103.57 C324.76,1104.64 326.90,1106.95 328.57,1107.14 C330.24,1107.33 331.43,1105.67 332.86,1104.71 C334.29,1103.76 335.71,1102.38 337.14,1101.43 C338.57,1100.48 340.00,1099.00 341.43,1099.00 C342.86,1099.00 344.29,1100.55 345.71,1101.43 C347.14,1102.31 348.33,1103.74 350.00,1104.29 C351.67,1104.83 353.81,1104.48 355.71,1104.71 C357.62,1104.95 359.52,1105.95 361.43,1105.71 C363.33,1105.48 365.36,1104.00 367.14,1103.29 C368.93,1102.57 370.48,1101.50 372.14,1101.43 C373.81,1101.36 375.36,1102.14 377.14,1102.86 C378.93,1103.57 381.07,1104.64 382.86,1105.71 C384.64,1106.79 386.19,1108.00 387.86,1109.29 C389.52,1110.57 392.86,1113.40 392.86,1113.40 L394.29,1113.40 C394.29,1113.40 397.14,1112.35 398.57,1110.71 C400.00,1109.08 401.31,1105.71 402.86,1103.57 C404.40,1101.43 406.31,1098.57 407.86,1097.86 C409.40,1097.14 410.83,1098.69 412.14,1099.29 C413.45,1099.88 414.52,1101.31 415.71,1101.43 C416.90,1101.55 417.86,1101.19 419.29,1100.00 C420.71,1098.81 424.29,1094.29 424.29,1094.29 C424.29,1094.29 427.38,1098.21 428.57,1100.00 C429.76,1101.79 430.24,1103.33 431.43,1105.00 C432.62,1106.67 433.57,1109.29 435.71,1110.00 C437.86,1110.71 442.62,1109.40 444.29,1109.29 C445.71,1109.17 444.29,1109.24 445.71,1109.29 C447.26,1109.33 451.55,1109.81 453.57,1109.57 C455.60,1109.33 455.83,1108.10 457.86,1107.86 C459.88,1107.62 462.98,1108.74 465.71,1108.14 C468.45,1107.55 472.14,1104.86 474.29,1104.29 C476.43,1103.71 477.14,1103.88 478.57,1104.71 C480.00,1105.55 481.31,1107.84 482.86,1109.29 C484.40,1110.73 487.86,1113.40 487.86,1113.40 C487.86,1113.40 491.55,1111.09 493.57,1109.57 C495.60,1108.05 497.98,1106.24 500.00,1104.29 C502.02,1102.33 503.93,1099.76 505.71,1097.86 C507.50,1095.95 510.71,1092.86 510.71,1092.86 C510.71,1092.86 513.10,1097.38 514.29,1099.29 C515.48,1101.19 516.79,1103.33 517.86,1104.29 C518.93,1105.24 519.64,1106.19 520.71,1105.00 C521.79,1103.81 523.10,1099.00 524.29,1097.14 C525.48,1095.29 526.43,1093.98 527.86,1093.86 C529.29,1093.74 531.31,1094.81 532.86,1096.43 C534.40,1098.05 535.83,1101.43 537.14,1103.57 C538.45,1105.71 539.52,1107.65 540.71,1109.29 C541.90,1110.92 544.29,1113.40 544.29,1113.40 C544.29,1113.40 546.90,1108.54 548.57,1106.43 C550.24,1104.31 552.38,1101.48 554.29,1100.71 C556.19,1099.95 558.10,1102.05 560.00,1101.86 C561.90,1101.67 564.05,1100.71 565.71,1099.57 C567.38,1098.43 568.45,1096.24 570.00,1095.00 C571.55,1093.76 573.33,1093.52 575.00,1092.14 C576.67,1090.76 578.33,1087.19 580.00,1086.71 C581.67,1086.24 583.33,1088.02 585.00,1089.29 C586.67,1090.55 588.21,1092.74 590.00,1094.29 C591.79,1095.83 594.05,1096.90 595.71,1098.57 C597.38,1100.24 598.81,1102.74 600.00,1104.29 C601.19,1105.83 601.67,1107.07 602.86,1107.86 C604.05,1108.64 605.48,1109.00 607.14,1109.00 C608.81,1109.00 610.95,1108.00 612.86,1107.86 C614.76,1107.71 616.67,1108.98 618.57,1108.14 C620.48,1107.31 622.02,1104.62 624.29,1102.86 C626.55,1101.10 629.64,1097.98 632.14,1097.57 C634.64,1097.17 637.38,1099.19 639.29,1100.43 C641.19,1101.67 642.26,1103.33 643.57,1105.00 C644.88,1106.67 645.95,1109.03 647.14,1110.43 C648.33,1111.83 650.71,1113.40 650.71,1113.40 C650.71,1113.40 655.12,1110.21 657.14,1109.00 C659.17,1107.79 660.83,1107.05 662.86,1106.14 C664.88,1105.24 667.50,1103.76 669.29,1103.57 C671.07,1103.38 672.02,1104.48 673.57,1105.00 C675.12,1105.52 676.90,1106.71 678.57,1106.71 C680.24,1106.71 681.79,1105.64 683.57,1105.00 C685.36,1104.36 687.62,1102.86 689.29,1102.86 C690.95,1102.86 692.02,1103.98 693.57,1105.00 C695.12,1106.02 697.02,1108.64 698.57,1109.00 C700.12,1109.36 701.31,1107.86 702.86,1107.14 C704.40,1106.43 706.19,1104.55 707.86,1104.71 C709.52,1104.88 711.19,1107.14 712.86,1108.14 C714.52,1109.14 716.43,1110.40 717.86,1110.71 C719.29,1111.02 719.88,1110.71 721.43,1110.00 C722.98,1109.29 725.48,1107.31 727.14,1106.43 C728.81,1105.55 728.57,1105.00 731.43,1104.71 C734.29,1104.43 741.19,1104.31 744.29,1104.71 C747.38,1105.12 748.33,1106.67 750.00,1107.14 C751.67,1107.62 752.62,1107.69 754.29,1107.57 C755.95,1107.45 758.45,1107.21 760.00,1106.43 C761.55,1105.64 762.26,1104.24 763.57,1102.86 C764.88,1101.48 766.43,1098.93 767.86,1098.14 C769.29,1097.36 770.83,1097.36 772.14,1098.14 C773.45,1098.93 774.29,1101.29 775.71,1102.86 C777.14,1104.43 778.57,1107.02 780.71,1107.57 C782.86,1108.12 786.31,1106.38 788.57,1106.14 C790.83,1105.90 792.14,1106.10 794.29,1106.14 C796.43,1106.19 798.81,1105.79 801.43,1106.43 C804.05,1107.07 807.86,1109.81 810.00,1110.00 C812.14,1110.19 812.74,1108.36 814.29,1107.57 C815.83,1106.79 817.62,1105.36 819.29,1105.29 C820.95,1105.21 822.98,1106.67 824.29,1107.14 C825.60,1107.62 826.19,1108.02 827.14,1108.14 C828.10,1108.26 828.57,1108.50 830.00,1107.86 C831.43,1107.21 833.57,1105.29 835.71,1104.29 C837.86,1103.29 840.48,1102.69 842.86,1101.86 C845.24,1101.02 848.10,1099.24 850.00,1099.29 C851.90,1099.33 852.38,1100.48 854.29,1102.14 C856.19,1103.81 859.40,1108.45 861.43,1109.29 C863.45,1110.12 864.64,1108.21 866.43,1107.14 C868.21,1106.07 870.36,1102.86 872.14,1102.86 C873.93,1102.86 875.60,1105.95 877.14,1107.14 C878.69,1108.33 879.76,1110.71 881.43,1110.00 C883.10,1109.29 885.12,1104.76 887.14,1102.86 C889.17,1100.95 891.55,1098.69 893.57,1098.57 C895.60,1098.45 897.38,1100.95 899.29,1102.14 C901.19,1103.33 902.74,1104.40 905.00,1105.71 C907.26,1107.02 910.36,1109.40 912.86,1110.00 C915.36,1110.60 917.62,1109.29 920.00,1109.29 C922.38,1109.29 924.76,1110.29 927.14,1110.00 C929.52,1109.71 932.02,1108.21 934.29,1107.57 C936.55,1106.93 938.57,1105.74 940.71,1106.14 C942.86,1106.55 945.60,1109.48 947.14,1110.00 C948.69,1110.52 948.93,1110.24 950.00,1109.29 C951.07,1108.33 952.14,1106.07 953.57,1104.29 C955.00,1102.50 956.79,1099.60 958.57,1098.57 C960.36,1097.55 962.38,1097.90 964.29,1098.14 C966.19,1098.38 968.10,1099.52 970.00,1100.00 C971.90,1100.48 974.05,1100.93 975.71,1101.00 C977.38,1101.07 978.33,1100.60 980.00,1100.43 C981.67,1100.26 984.05,1099.48 985.71,1100.00 C987.38,1100.52 988.45,1102.31 990.00,1103.57 C991.55,1104.83 993.30,1106.83 995.00,1107.57 C996.70,1108.31 998.33,1108.61 1000.18,1108.00 C1002.02,1107.39 1004.20,1105.50 1006.07,1103.93 C1007.95,1102.36 1009.73,1100.00 1011.43,1098.57 C1013.12,1097.14 1014.73,1096.11 1016.25,1095.36 C1017.77,1094.61 1019.02,1093.80 1020.54,1094.07 C1022.05,1094.34 1023.66,1095.77 1025.36,1096.96 C1027.05,1098.16 1028.93,1099.73 1030.71,1101.25 C1032.50,1102.77 1034.46,1104.82 1036.07,1106.07 C1037.68,1107.32 1038.75,1108.71 1040.36,1108.75 C1041.96,1108.79 1043.93,1107.09 1045.71,1106.29 C1047.50,1105.48 1049.46,1103.96 1051.07,1103.93 C1052.68,1103.89 1053.57,1104.91 1055.36,1106.07 C1057.14,1107.23 1060.18,1110.04 1061.79,1110.89 C1063.39,1111.75 1063.84,1111.39 1065.00,1111.21 C1066.16,1111.04 1066.96,1111.30 1068.75,1109.82 C1070.54,1108.34 1073.66,1103.75 1075.71,1102.32 C1077.77,1100.89 1079.64,1101.55 1081.07,1101.25 C1082.50,1100.95 1082.86,1101.16 1084.29,1100.50 C1085.71,1099.84 1088.04,1097.79 1089.64,1097.29 C1091.25,1096.79 1092.68,1096.93 1093.93,1097.50 C1095.18,1098.07 1096.07,1099.79 1097.14,1100.71 C1098.21,1101.64 1098.93,1103.21 1100.36,1103.07 C1101.79,1102.93 1103.57,1101.11 1105.71,1099.86 C1107.86,1098.61 1111.43,1095.88 1113.21,1095.57 C1115.00,1095.27 1115.27,1096.46 1116.43,1098.04 C1117.59,1099.61 1119.02,1102.68 1120.18,1105.00 C1121.34,1107.32 1122.80,1110.56 1123.39,1111.96 C1123.71,1113.36 1123.66,1113.16 1123.71,1113.40 L1123.7,1113.4 Z" fill="#000000" clip-path="url(#c4)"/>
<line x1="103.1" y1="1113.40" x2="110.7" y2="1113.40" stroke="#333" stroke-width="2.9"/>
<text x="97" y="1122.30" font-size="24.4" fill="#4D4D4D" text-anchor="end">0</text>
<line x1="103.1" y1="1063.10" x2="110.7" y2="1063.10" stroke="#333" stroke-width="2.9"/>
<text x="97" y="1072.00" font-size="24.4" fill="#4D4D4D" text-anchor="end">5</text>
<line x1="103.1" y1="1012.80" x2="110.7" y2="1012.80" stroke="#333" stroke-width="2.9"/>
<text x="97" y="1021.70" font-size="24.4" fill="#4D4D4D" text-anchor="end">10</text>
<line x1="103.1" y1="962.50" x2="110.7" y2="962.50" stroke="#333" stroke-width="2.9"/>
<text x="97" y="971.40" font-size="24.4" fill="#4D4D4D" text-anchor="end">15</text>
<line x1="110.7" y1="916.30" x2="110.7" y2="1122.60" stroke="#000" stroke-width="2.9"/>
<text x="160.2" y="1028.85" font-size="24.4" fill="#1A1A1A" text-anchor="middle">Input</text>
<text transform="translate(51.9,576.7) rotate(-90)" font-size="30.56" fill="#000" text-anchor="middle">bigWig</text>
<text transform="translate(51.9,1229.3) rotate(-90)" font-size="30.56" fill="#000" text-anchor="middle">Genes</text>
<line x1="110.7" y1="1160.9" x2="110.7" y2="1297.5" stroke="#000" stroke-width="2.9"/>
<line x1="209.3" y1="1297.4" x2="1171.1" y2="1297.4" stroke="#000" stroke-width="2.9"/>
<line x1="223.8" y1="1297.4" x2="223.8" y2="1304.8" stroke="#333" stroke-width="2.9"/>
<text x="223.8" y="1328.6" font-size="24.4" fill="#4D4D4D" text-anchor="middle">17274000</text>
<line x1="419.6" y1="1297.4" x2="419.6" y2="1304.8" stroke="#333" stroke-width="2.9"/>
<text x="419.6" y="1328.6" font-size="24.4" fill="#4D4D4D" text-anchor="middle">17276000</text>
<line x1="615.4" y1="1297.4" x2="615.4" y2="1304.8" stroke="#333" stroke-width="2.9"/>
<text x="615.4" y="1328.6" font-size="24.4" fill="#4D4D4D" text-anchor="middle">17278000</text>
<line x1="811.2" y1="1297.4" x2="811.2" y2="1304.8" stroke="#333" stroke-width="2.9"/>
<text x="811.2" y="1328.6" font-size="24.4" fill="#4D4D4D" text-anchor="middle">17280000</text>
<line x1="1007.0" y1="1297.4" x2="1007.0" y2="1304.8" stroke="#333" stroke-width="2.9"/>
<text x="1007.0" y="1328.6" font-size="24.4" fill="#4D4D4D" text-anchor="middle">17282000</text>
<text x="690.2" y="1363.8" font-size="30.56" fill="#000" text-anchor="middle">chr16 position (bp)</text>
<line x1="449.4" y1="1283.0" x2="1127.6" y2="1283.0" stroke="#00008B" stroke-width="3.4"/>
<path d="M444.00,1277.50 L449.40,1283.00 L444.00,1288.50 M461.47,1277.50 L466.87,1283.00 L461.47,1288.50 M478.94,1277.50 L484.34,1283.00 L478.94,1288.50 M496.41,1277.50 L501.81,1283.00 L496.41,1288.50 M513.88,1277.50 L519.28,1283.00 L513.88,1288.50 M531.35,1277.50 L536.75,1283.00 L531.35,1288.50 M548.82,1277.50 L554.22,1283.00 L548.82,1288.50 M566.29,1277.50 L571.69,1283.00 L566.29,1288.50 M583.76,1277.50 L589.16,1283.00 L583.76,1288.50 M601.23,1277.50 L606.63,1283.00 L601.23,1288.50 M618.70,1277.50 L624.10,1283.00 L618.70,1288.50 M636.17,1277.50 L641.57,1283.00 L636.17,1288.50 M653.64,1277.50 L659.04,1283.00 L653.64,1288.50 M671.11,1277.50 L676.51,1283.00 L671.11,1288.50 M688.58,1277.50 L693.98,1283.00 L688.58,1288.50 M706.05,1277.50 L711.45,1283.00 L706.05,1288.50 M723.52,1277.50 L728.92,1283.00 L723.52,1288.50 M740.99,1277.50 L746.39,1283.00 L740.99,1288.50 M758.46,1277.50 L763.86,1283.00 L758.46,1288.50 M775.93,1277.50 L781.33,1283.00 L775.93,1288.50 M793.40,1277.50 L798.80,1283.00 L793.40,1288.50 M810.87,1277.50 L816.27,1283.00 L810.87,1288.50 M828.34,1277.50 L833.74,1283.00 L828.34,1288.50 M845.81,1277.50 L851.21,1283.00 L845.81,1288.50 M863.28,1277.50 L868.68,1283.00 L863.28,1288.50 M880.75,1277.50 L886.15,1283.00 L880.75,1288.50 M898.22,1277.50 L903.62,1283.00 L898.22,1288.50 M915.69,1277.50 L921.09,1283.00 L915.69,1288.50 M933.16,1277.50 L938.56,1283.00 L933.16,1288.50 M950.63,1277.50 L956.03,1283.00 L950.63,1288.50 M968.10,1277.50 L973.50,1283.00 L968.10,1288.50 M985.57,1277.50 L990.97,1283.00 L985.57,1288.50 M1003.04,1277.50 L1008.44,1283.00 L1003.04,1288.50 M1020.51,1277.50 L1025.91,1283.00 L1020.51,1288.50 M1037.98,1277.50 L1043.38,1283.00 L1037.98,1288.50 M1055.45,1277.50 L1060.85,1283.00 L1055.45,1288.50 M1072.92,1277.50 L1078.32,1283.00 L1072.92,1288.50" fill="none" stroke="#00008B" stroke-width="3.4" stroke-linecap="butt" stroke-linejoin="miter"/>
<rect x="449.2" y="1274.0" width="16.6" height="17.6" fill="#00008B"/>
<rect x="481.0" y="1274.0" width="61.2" height="17.6" fill="#00008B"/>
<rect x="551.0" y="1274.0" width="54.0" height="17.6" fill="#00008B"/>
<rect x="612.1" y="1274.0" width="68.2" height="17.6" fill="#00008B"/>
<rect x="1087.0" y="1274.0" width="40.7" height="17.6" fill="#00008B"/>
<text x="787.5" y="1273.9" font-size="19.45" fill="#000" text-anchor="middle">Tmem191c</text>
<line x1="845.8" y1="1200.3" x2="1125.8" y2="1200.3" stroke="#006400" stroke-width="3.4"/>
<path d="M851.20,1194.80 L845.80,1200.30 L851.20,1205.80 M868.70,1194.80 L863.30,1200.30 L868.70,1205.80 M886.20,1194.80 L880.80,1200.30 L886.20,1205.80 M903.70,1194.80 L898.30,1200.30 L903.70,1205.80 M921.20,1194.80 L915.80,1200.30 L921.20,1205.80 M938.70,1194.80 L933.30,1200.30 L938.70,1205.80 M956.20,1194.80 L950.80,1200.30 L956.20,1205.80 M973.70,1194.80 L968.30,1200.30 L973.70,1205.80 M991.20,1194.80 L985.80,1200.30 L991.20,1205.80 M1008.70,1194.80 L1003.30,1200.30 L1008.70,1205.80 M1026.20,1194.80 L1020.80,1200.30 L1026.20,1205.80 M1043.70,1194.80 L1038.30,1200.30 L1043.70,1205.80 M1061.20,1194.80 L1055.80,1200.30 L1061.20,1205.80 M1078.70,1194.80 L1073.30,1200.30 L1078.70,1205.80 M1096.20,1194.80 L1090.80,1200.30 L1096.20,1205.80 M1113.70,1194.80 L1108.30,1200.30 L1113.70,1205.80 M1131.20,1194.80 L1125.80,1200.30 L1131.20,1205.80" fill="none" stroke="#006400" stroke-width="3.4" stroke-linecap="butt" stroke-linejoin="miter"/>
<rect x="845.1" y="1191.2" width="26.9" height="18.2" fill="#006400"/>
<rect x="881.1" y="1191.2" width="8.7" height="18.2" fill="#006400"/>
<rect x="911.2" y="1191.2" width="60.6" height="18.2" fill="#006400"/>
<rect x="992.2" y="1191.2" width="21.7" height="18.2" fill="#006400"/>
<rect x="1035.1" y="1191.2" width="11.7" height="18.2" fill="#006400"/>
<rect x="1067.1" y="1191.2" width="12.9" height="18.2" fill="#006400"/>
<rect x="1087.3" y="1191.2" width="10.5" height="18.2" fill="#006400"/>
<text x="986.4" y="1190.9" font-size="19.45" fill="#000" text-anchor="middle">Pi4ka</text>
<text x="1216" y="459.9" font-size="30.56" fill="#000">bw</text>
<rect x="1219" y="480.2" width="43.8" height="43.6" fill="#0020CD"/>
<text x="1279.5" y="510.9" font-size="24.4" fill="#000">E14_1</text>
<rect x="1219" y="528.2" width="43.8" height="43.6" fill="#0020CD"/>
<text x="1279.5" y="558.9" font-size="24.4" fill="#000">E14_2</text>
<rect x="1219" y="576.2" width="43.8" height="43.6" fill="#E87500"/>
<text x="1279.5" y="606.9" font-size="24.4" fill="#000">E17_1</text>
<rect x="1219" y="624.2" width="43.8" height="43.6" fill="#E87500"/>
<text x="1279.5" y="654.9" font-size="24.4" fill="#000">E17_2</text>
<rect x="1219" y="672.2" width="43.8" height="43.6" fill="#000000"/>
<text x="1279.5" y="702.9" font-size="24.4" fill="#000">Input</text>
</svg></body></html>
